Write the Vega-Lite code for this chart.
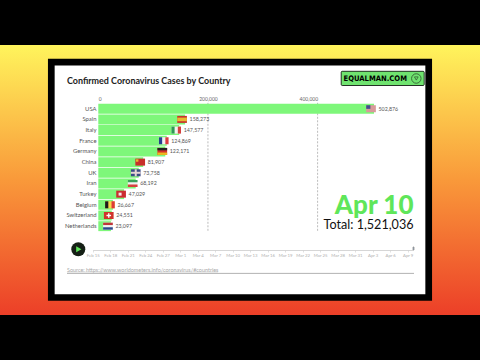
{"$schema":"https://vega.github.io/schema/vega-lite/v6.json","width":480,"height":360,"autosize":"none","padding":0,"background":"#000000",
"view":{"stroke":null,"fill":{"gradient":"linear","x1":0,"y1":0,"x2":0,"y2":1,"stops":[{"offset":0,"color":"#000000"},{"offset":0.125,"color":"#000000"},{"offset":0.1251,"color":"#fff45c"},{"offset":0.5,"color":"#f9993a"},{"offset":0.8749,"color":"#ec3f28"},{"offset":0.875,"color":"#000000"},{"offset":1,"color":"#000000"}]}},
"config":{"font":"Lato","text":{"font":"Lato"}},
"datasets":{"cases":[{"country":"USA","cases":502876},{"country":"Spain","cases":158273},{"country":"Italy","cases":147577},{"country":"France","cases":124869},{"country":"Germany","cases":122171},{"country":"China","cases":81907},{"country":"UK","cases":73758},{"country":"Iran","cases":68192},{"country":"Turkey","cases":47029},{"country":"Belgium","cases":26667},{"country":"Switzerland","cases":24551},{"country":"Netherlands","cases":23097}],
"ticks":[{"tick":200000},{"tick":400000}],
"timeline":[{"date":"2020-04-10"}],
"one":[{"item":"annotation"}]},
"resolve":{"scale":{"x":"independent","y":"independent"},"axis":{"x":"independent","y":"independent"}},
"layer":[
{"data":{"name":"one"},"layer":[
{"mark":{"type":"rect","fill":"#ffffff","stroke":"#000000","strokeWidth":6.7},"encoding":{"x":{"datum":51.3,"type":"quantitative","scale":{"domain":[0,480],"range":[0,480],"nice":false},"axis":null},"x2":{"datum":428.7},"y":{"datum":62.2,"type":"quantitative","scale":{"domain":[0,360],"range":[0,360],"nice":false},"axis":null},"y2":{"datum":297.5}}},
{"mark":{"type":"text","text":"Confirmed Coronavirus Cases by Country","fontSize":8.95,"fontWeight":"bold","align":"left","baseline":"middle","color":"#222222"},"encoding":{"x":{"datum":67,"type":"quantitative","scale":{"domain":[0,480],"range":[0,480],"nice":false}},"y":{"datum":80.5,"type":"quantitative","scale":{"domain":[0,360],"range":[0,360],"nice":false}}}},
{"mark":{"type":"rect","fill":"#6fe36f","stroke":"#000000","strokeWidth":0.8,"cornerRadius":1},"encoding":{"x":{"datum":341.2,"type":"quantitative","scale":{"domain":[0,480],"range":[0,480],"nice":false}},"x2":{"datum":424.2},"y":{"datum":71.3,"type":"quantitative","scale":{"domain":[0,360],"range":[0,360],"nice":false}},"y2":{"datum":85.5}}},
{"mark":{"type":"text","text":"EQUALMAN.COM","font":"DejaVu Sans Condensed","fontSize":7.6,"fontWeight":"bold","align":"left","baseline":"middle","color":"#000000"},"encoding":{"x":{"datum":343.5,"type":"quantitative","scale":{"domain":[0,480],"range":[0,480],"nice":false}},"y":{"datum":78.8,"type":"quantitative","scale":{"domain":[0,360],"range":[0,360],"nice":false}}}},
{"mark":{"type":"point","shape":"circle","size":90,"filled":false,"stroke":"#111111","strokeWidth":0.8},"encoding":{"x":{"datum":416.3,"type":"quantitative","scale":{"domain":[0,480],"range":[0,480],"nice":false}},"y":{"datum":78.5,"type":"quantitative","scale":{"domain":[0,360],"range":[0,360],"nice":false}}}},
{"mark":{"type":"point","shape":"triangle-down","size":14,"filled":false,"stroke":"#111111","strokeWidth":0.7},"encoding":{"x":{"datum":416.3,"type":"quantitative","scale":{"domain":[0,480],"range":[0,480],"nice":false}},"y":{"datum":78.5,"type":"quantitative","scale":{"domain":[0,360],"range":[0,360],"nice":false}}}},
{"mark":{"type":"text","text":"Apr 10","fontSize":26,"fontWeight":900,"align":"right","baseline":"alphabetic","color":"#5fe65a"},"encoding":{"x":{"datum":413.5,"type":"quantitative","scale":{"domain":[0,480],"range":[0,480],"nice":false}},"y":{"datum":214.3,"type":"quantitative","scale":{"domain":[0,360],"range":[0,360],"nice":false}}}},
{"mark":{"type":"text","text":"Total: 1,521,036","fontSize":12.6,"align":"right","baseline":"alphabetic","color":"#111111"},"encoding":{"x":{"datum":413.5,"type":"quantitative","scale":{"domain":[0,480],"range":[0,480],"nice":false}},"y":{"datum":229.3,"type":"quantitative","scale":{"domain":[0,360],"range":[0,360],"nice":false}}}},
{"mark":{"type":"point","shape":"circle","size":196,"filled":true,"fill":"#151f15","opacity":1},"encoding":{"x":{"datum":78.3,"type":"quantitative","scale":{"domain":[0,480],"range":[0,480],"nice":false}},"y":{"datum":249.3,"type":"quantitative","scale":{"domain":[0,360],"range":[0,360],"nice":false}}}},
{"mark":{"type":"point","shape":"triangle-right","size":36,"filled":true,"fill":"#5fe65a","opacity":1},"encoding":{"x":{"datum":78.8,"type":"quantitative","scale":{"domain":[0,480],"range":[0,480],"nice":false}},"y":{"datum":249.3,"type":"quantitative","scale":{"domain":[0,360],"range":[0,360],"nice":false}}}},
{"mark":{"type":"text","text":"Source: https://www.worldometers.info/coronavirus/#countries","fontSize":5.45,"align":"left","baseline":"middle","color":"#a8a8a8"},"encoding":{"x":{"datum":67,"type":"quantitative","scale":{"domain":[0,480],"range":[0,480],"nice":false}},"y":{"datum":269.5,"type":"quantitative","scale":{"domain":[0,360],"range":[0,360],"nice":false}}}},
{"mark":{"type":"rule","stroke":"#a0a0a0","strokeWidth":0.8},"encoding":{"x":{"datum":67,"type":"quantitative","scale":{"domain":[0,480],"range":[0,480],"nice":false}},"x2":{"datum":414},"y":{"datum":273.4,"type":"quantitative","scale":{"domain":[0,360],"range":[0,360],"nice":false}}}},
{"mark":{"type":"rule","stroke":"#b8b8b8","strokeWidth":0.5},"encoding":{"x":{"datum":67,"type":"quantitative","scale":{"domain":[0,480],"range":[0,480],"nice":false}},"x2":{"datum":218},"y":{"datum":272,"type":"quantitative","scale":{"domain":[0,360],"range":[0,360],"nice":false}}}}
]},
{"data":{"name":"ticks"},"mark":{"type":"rule","stroke":"#aaaaaa","strokeWidth":0.8,"strokeDash":[2,1.5]},"encoding":{"x":{"field":"tick","type":"quantitative","scale":{"domain":[0,400000],"range":[98.3,317.6],"nice":false},"axis":null},"y":{"datum":102.8,"type":"quantitative","scale":{"domain":[0,360],"range":[0,360],"nice":false},"axis":null},"y2":{"datum":231.7}}},
{"data":{"name":"cases"},"encoding":{"y":{"field":"country","type":"nominal","sort":null,"scale":{"range":[103.4,231.5],"paddingInner":0.07,"paddingOuter":0.035},"axis":{"orient":"left","offset":-98,"zindex":1,"domain":false,"ticks":false,"title":null,"labelFontSize":5.9,"labelColor":"#555555","labelPadding":2,"labelFont":"Lato"}},"x":{"field":"cases","type":"quantitative","scale":{"domain":[0,400000],"range":[98.3,317.6],"nice":false},"axis":{"orient":"top","offset":-102,"zindex":1,"domain":false,"ticks":false,"grid":false,"title":null,"values":[0,200000,400000],"labelExpr":"format(datum.value, ',')","labelFontSize":5,"labelColor":"#666666","labelPadding":1,"labelFont":"Lato"}}},"resolve":{"scale":{"color":"independent"}},
"layer":[
{"mark":{"type":"bar","fill":"#7ef77a"}},
{"mark":{"type":"rect","width":9.7,"height":7,"xOffset":-3},"encoding":{"color":{"field":"country","type":"nominal","legend":null,"scale":{"domain":["USA","Spain","Italy","France","Germany","China","UK","Iran","Turkey","Belgium","Switzerland","Netherlands"],"range":["#d89a9a","#c9342c","#f2f2ee","#f2f2f2","#d3322a","#c8302a","#3c4c86","#f2f2f2","#cc2d30","#f5d84a","#d0342c","#f2f2f2"]}}}},
{"transform":[{"filter":{"field":"country","oneOf":["Italy","France","Belgium"]}}],"mark":{"type":"rect","width":3.2,"height":7,"xOffset":-6.2},"encoding":{"color":{"field":"country","type":"nominal","legend":null,"scale":{"domain":["Italy","France","Belgium"],"range":["#2f9a55","#25418f","#1a1a1a"]}}}},
{"transform":[{"filter":{"field":"country","oneOf":["Italy","France","Belgium"]}}],"mark":{"type":"rect","width":3.2,"height":7,"xOffset":0.2},"encoding":{"color":{"field":"country","type":"nominal","legend":null,"scale":{"domain":["Italy","France","Belgium"],"range":["#d4403f","#dd3a40","#dd3a3a"]}}}},
{"transform":[{"filter":{"field":"country","oneOf":["Germany","Iran","Netherlands"]}}],"mark":{"type":"rect","width":9.7,"height":2.4,"xOffset":-3,"yOffset":-2.3},"encoding":{"color":{"field":"country","type":"nominal","legend":null,"scale":{"domain":["Germany","Iran","Netherlands"],"range":["#222222","#3aa05a","#c0363a"]}}}},
{"transform":[{"filter":{"field":"country","oneOf":["Germany","Iran","Netherlands"]}}],"mark":{"type":"rect","width":9.7,"height":2.4,"xOffset":-3,"yOffset":2.3},"encoding":{"color":{"field":"country","type":"nominal","legend":null,"scale":{"domain":["Germany","Iran","Netherlands"],"range":["#eeb91e","#d6403f","#2c4a8e"]}}}},
{"transform":[{"filter":{"field":"country","equal":"Spain"}}],"mark":{"type":"rect","width":9.7,"height":3.6,"xOffset":-3,"fill":"#e8b830"}},
{"transform":[{"filter":{"field":"country","equal":"USA"}}],"mark":{"type":"rect","width":4.2,"height":3.6,"xOffset":-5.7,"yOffset":-1.7,"fill":"#3f4f8c"}},
{"transform":[{"filter":{"field":"country","equal":"China"}}],"mark":{"type":"rect","width":2.4,"height":2.4,"xOffset":-6,"yOffset":-1.6,"fill":"#e8b830"}},
{"transform":[{"filter":{"field":"country","equal":"Turkey"}}],"mark":{"type":"rect","width":3,"height":3,"xOffset":-4,"fill":"#f5e8e8"}},
{"transform":[{"filter":{"field":"country","equal":"Switzerland"}}],"mark":{"type":"rect","width":4.6,"height":1.4,"xOffset":-3,"fill":"#ffffff"}},
{"transform":[{"filter":{"field":"country","equal":"Switzerland"}}],"mark":{"type":"rect","width":1.4,"height":4.6,"xOffset":-3,"fill":"#ffffff"}},
{"transform":[{"filter":{"field":"country","equal":"UK"}}],"mark":{"type":"rect","width":9.7,"height":2,"xOffset":-3,"fill":"#e6d4d4"}},
{"transform":[{"filter":{"field":"country","equal":"UK"}}],"mark":{"type":"rect","width":2,"height":7,"xOffset":-3,"fill":"#e6d4d4"}},
{"mark":{"type":"text","align":"left","baseline":"middle","xOffset":4.5,"fontSize":5.3,"color":"#555555"},"encoding":{"text":{"field":"cases","type":"quantitative","format":","}}}
]},
{"data":{"name":"timeline"},"mark":{"type":"tick","orient":"vertical","stroke":"#666666","size":3,"strokeWidth":0.8},"encoding":{"x":{"field":"date","type":"temporal","scale":{"type":"utc","domain":[1581724800000,1586476800000],"range":[92.7,413.5]},"axis":{"orient":"bottom","offset":-110,"zindex":1,"domain":true,"domainColor":"#cccccc","domainWidth":0.8,"ticks":true,"tickColor":"#cccccc","tickSize":2,"tickWidth":0.6,"grid":false,"title":null,"values":[1581724800000,1581984000000,1582243200000,1582502400000,1582761600000,1583020800000,1583280000000,1583539200000,1583798400000,1584057600000,1584316800000,1584576000000,1584835200000,1585094400000,1585353600000,1585612800000,1585872000000,1586131200000,1586390400000],"format":"%b %-d","labelOverlap":false,"labelFlush":false,"labelFontSize":4.3,"labelColor":"#b0b0b0","labelPadding":1,"labelFont":"Lato"}},"y":{"datum":248.5,"type":"quantitative","scale":{"domain":[0,360],"range":[0,360],"nice":false},"axis":null}}}
]}
